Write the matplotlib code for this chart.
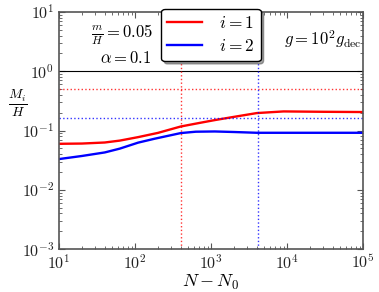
import numpy as np
import matplotlib
matplotlib.use("Agg")
import matplotlib.pyplot as plt
from matplotlib.ticker import FuncFormatter

plt.rcParams['mathtext.fontset'] = 'cm'
plt.rcParams['font.family'] = 'serif'
plt.rcParams['font.serif'] = ['DejaVu Serif']

# curves (N - N0, M_i/H)
n_red = [10, 20, 40, 63, 110, 200, 400, 720, 1120, 2000, 4000, 9000, 30000, 100000]
m_red = [0.0597, 0.0603, 0.0628, 0.0676, 0.0774, 0.0912, 0.117, 0.135, 0.150, 0.170,
         0.197, 0.210, 0.207, 0.205]
n_blue = [10, 20, 40, 63, 110, 180, 400, 630, 1120, 2000, 4000, 20000, 100000]
m_blue = [0.033, 0.0372, 0.0427, 0.0495, 0.0625, 0.0726, 0.0906, 0.0955, 0.0964, 0.0944,
          0.0916, 0.0916, 0.0916]

# reference levels
h_red = 0.5
h_blue = 0.16
v_red = 400
v_blue = 4100

fig = plt.figure(figsize=(3.79, 2.92), dpi=100)
ax = fig.add_axes([0.1557, 0.147, 0.8023, 0.812])

ax.plot(n_red, m_red, color='red', lw=1.7, label='$i=1$')
ax.plot(n_blue, m_blue, color='blue', lw=1.7, label='$i=2$')
ax.axhline(1.0, color='black', lw=0.8)
ax.axhline(h_red, color='red', ls=':', lw=1, alpha=0.8)
ax.axhline(h_blue, color='blue', ls=':', lw=1, alpha=0.8)
ax.axvline(v_red, color='red', ls=':', lw=1, alpha=0.8)
ax.axvline(v_blue, color='blue', ls=':', lw=1, alpha=0.8)

ax.set_xscale('log')
ax.set_yscale('log')
ax.set_xlim(10, 1e5)
ax.set_ylim(1e-3, 10)

fmt = FuncFormatter(lambda v, p: r'$10^{%d}$' % int(round(np.log10(v))))
ax.xaxis.set_major_formatter(fmt)
ax.yaxis.set_major_formatter(fmt)

ax.tick_params(which='both', direction='in', top=True, right=True, labelsize=11.5,
               colors='#555555', labelcolor='#222222')
ax.tick_params(which='major', length=4)
ax.tick_params(which='minor', length=2)
ax.tick_params(axis='x', pad=4)
for s in ax.spines.values():
    s.set_color('#555555')
    s.set_linewidth(1.2)

ax.set_xlabel('$N-N_0$', fontsize=13, labelpad=0)
ax.set_ylabel(r'$\frac{M_i}{H}$', fontsize=14, rotation=0)
ax.yaxis.set_label_coords(-0.135, 0.55)

ax.text(0.31, 0.905, r'$\frac{m}{H}=0.05$', transform=ax.transAxes, fontsize=12, ha='right', va='center')
ax.text(0.305, 0.805, r'$\alpha=0.1$', transform=ax.transAxes, fontsize=12, ha='right', va='center')
ax.text(0.995, 0.885, r'$g=10^2 g_{\rm dec}$', transform=ax.transAxes, fontsize=12, ha='right', va='center')

leg = ax.legend(loc='upper center', bbox_to_anchor=(0.5, 1.013), borderaxespad=0, fontsize=12.5,
                fancybox=True, shadow=True, framealpha=1, edgecolor='black', handlelength=2.0,
                borderpad=0.35, labelspacing=0.35, handletextpad=1.0)
leg.get_frame().set_linewidth(1)

fig.savefig('out.png', dpi=100)
